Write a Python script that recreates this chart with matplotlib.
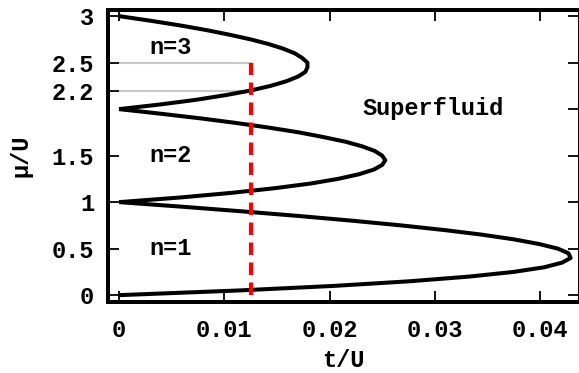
import matplotlib
matplotlib.use("Agg")
import matplotlib.pyplot as plt

plt.rcParams["font.family"] = ["Liberation Mono", "DejaVu Sans Mono"]
plt.rcParams["font.weight"] = "bold"

# lobe boundaries: chemical potential mu/U and hopping t/U
mu_n1 = [0.0, 0.05, 0.1, 0.15, 0.2, 0.25, 0.3, 0.35, 0.4, 0.45, 0.5,
         0.55, 0.6, 0.65, 0.7, 0.75, 0.8, 0.85, 0.9, 0.95, 1.0]
t_n1 = [0.0, 0.0113, 0.0205, 0.0277, 0.0333, 0.0375, 0.0404, 0.0421,
        0.0429, 0.0427, 0.0417, 0.0399, 0.0375, 0.0345, 0.0309, 0.0268,
        0.0222, 0.0172, 0.0118, 0.0061, 0.0]
mu_n2 = [1.0, 1.05, 1.1, 1.15, 1.2, 1.25, 1.3, 1.35, 1.4, 1.45, 1.5,
         1.55, 1.6, 1.65, 1.7, 1.75, 1.8, 1.85, 1.9, 1.95, 2.0]
t_n2 = [0.0, 0.0058, 0.0107, 0.0148, 0.0182, 0.0208, 0.0228, 0.0242,
        0.0250, 0.0253, 0.0250, 0.0243, 0.0231, 0.0215, 0.0194, 0.0171,
        0.0143, 0.0112, 0.0078, 0.0040, 0.0]
mu_n3 = [2.0, 2.05, 2.1, 2.15, 2.2, 2.25, 2.3, 2.35, 2.4, 2.45, 2.5,
         2.55, 2.6, 2.65, 2.7, 2.75, 2.8, 2.85, 2.9, 2.95, 3.0]
t_n3 = [0.0, 0.0039, 0.0073, 0.0101, 0.0125, 0.0144, 0.0159, 0.0170,
        0.0177, 0.0179, 0.0179, 0.0174, 0.0167, 0.0156, 0.0142, 0.0125,
        0.0105, 0.0083, 0.0058, 0.0030, 0.0]

t_cut = 0.0125          # red dashed line
mu_marks = [2.2, 2.5]   # grey guide lines
mu_cut_top = 2.5

left_ticks = [0, 0.5, 1, 1.5, 2.2, 2.5, 3]
left_labels = ["0", "0.5", "1", "1.5", "2.2", "2.5", "3"]
right_ticks = [0, 0.5, 1, 1.5, 2, 2.5, 3]
x_ticks = [0, 0.01, 0.02, 0.03, 0.04]
x_labels = ["0", "0.01", "0.02", "0.03", "0.04"]

labels = [("n=3", 0.0049, 2.66), ("n=2", 0.0049, 1.50), ("n=1", 0.0049, 0.50),
          ("Superfluid", 0.0298, 2.01)]

fs = 17

fig = plt.figure(figsize=(5.79, 3.73), dpi=100)
ax = fig.add_axes([0.1865, 0.19, 0.8135, 0.783])

for mu in mu_marks:
    ax.plot([0, t_cut], [mu, mu], color="#c8c8c8", lw=1.5, zorder=1)
ax.plot([t_cut, t_cut], [0, mu_cut_top], color="#ff0000", lw=3,
        ls=(0, (3, 1.8)), zorder=3)

for mu, t in [(mu_n1, t_n1), (mu_n2, t_n2), (mu_n3, t_n3)]:
    ax.plot(t, mu, color="black", lw=2.9, solid_capstyle="butt", zorder=2)

for s, x, y in labels:
    ax.text(x, y, s, ha="center", va="center", fontsize=fs,
            fontweight="bold")

ax.set_xlim(-0.00105, 0.0437)
ax.set_ylim(-0.075, 3.065)

ax.set_xticks(x_ticks)
ax.set_xticklabels(x_labels)
ax.set_yticks(left_ticks)
ax.set_yticklabels(left_labels)
ax.tick_params(axis="both", direction="in", length=8, width=1.3,
               labelsize=fs, pad=10)
ax.tick_params(axis="x", top=True, pad=12)

ax2 = ax.twinx()
ax2.set_ylim(ax.get_ylim())
ax2.set_yticks(right_ticks)
ax2.set_yticklabels([])
ax2.tick_params(axis="y", direction="in", length=8, width=1.3)

for a in (ax, ax2):
    for side in ["left", "bottom", "top"]:
        a.spines[side].set_linewidth(2.8)
    a.spines["right"].set_linewidth(1.2)

ax.set_xlabel("t/U", fontsize=fs, fontweight="bold", labelpad=5)
ax.set_ylabel("μ/U", fontsize=fs, fontweight="bold", labelpad=14)

fig.savefig("out.png", dpi=100)
